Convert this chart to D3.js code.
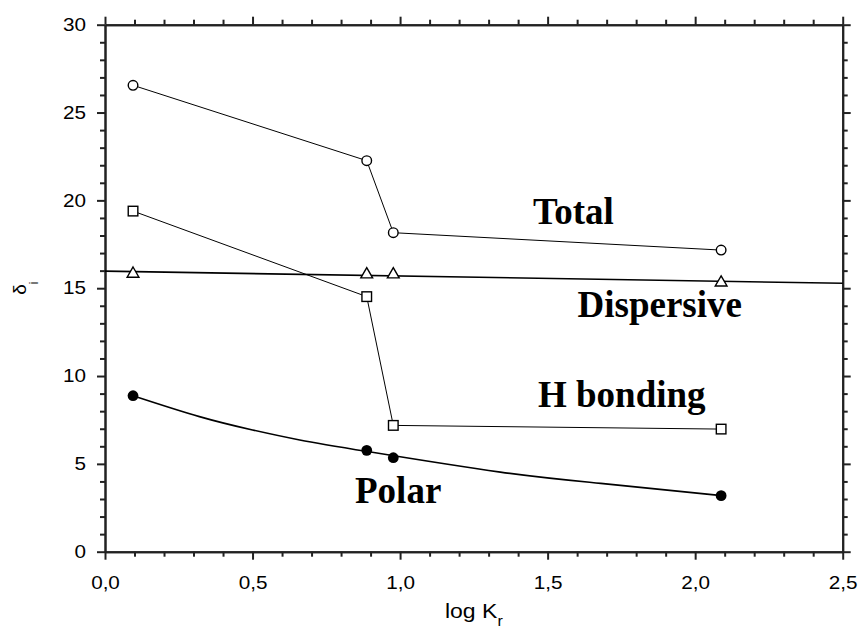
<!DOCTYPE html>
<html>
<head>
<meta charset="utf-8">
<script src="https://cdn.jsdelivr.net/npm/d3@7"></script>
<style>
  body { margin: 0; background: #fff; }
  svg { display: block; }
</style>
</head>
<body>
<script>
// values
var logK = [0.095, 0.887, 0.977, 2.088];
var total = [26.55, 22.26, 18.16, 17.17];
var hBonding = [19.39, 14.52, 7.19, 6.98];
var dispersive = [15.82, 15.78, 15.78, 15.32];
var polar = [8.88, 5.77, 5.35, 3.19];

// fitted lines as drawn in the figure
var dispFitX = [0, 2.5];
var dispFitY = [15.97, 15.28];
var polarFitX = [0.095, 0.32, 0.50, 0.66, 0.89, 1.34, 1.68, 2.09];
var polarFitY = [8.88, 7.69, 6.93, 6.36, 5.70, 4.53, 3.89, 3.19];

var xMajor = [0, 0.5, 1, 1.5, 2, 2.5];
var yMajor = [0, 5, 10, 15, 20, 25, 30];

var labels = ["Total", "Dispersive", "H bonding", "Polar"];
var labelPos = [[533, 224], [577.5, 316.7], [538, 406.7], [355, 503.3]];

var w = 863, h = 635;
var svg = d3.select("body").append("svg")
    .attr("width", w)
    .attr("height", h);

var x = d3.scaleLinear().domain([0, 2.5]).range([105, 842.7]);
var y = d3.scaleLinear().domain([0, 30]).range([551.7, 24.7]);

var xMinor = d3.range(0, 26).map(function(i){ return i / 10; })
    .filter(function(v){ return Math.round(v * 10) % 5 != 0; });
var yMinor = d3.range(0, 31).filter(function(v){ return v % 5 != 0; });

var fmtX = function(d){ return d3.format(".1f")(d).replace(".", ","); };

function styleAxis(g){
  g.select(".domain").attr("stroke", "#222").attr("stroke-width", 2);
  g.selectAll(".tick line").attr("stroke", "#222").attr("stroke-width", 2);
  g.selectAll("text")
    .attr("fill", "#000")
    .attr("transform", "scale(1.15,1)")
    .style("font-family", "'Liberation Sans', Arial, sans-serif")
    .style("font-size", "18px");
}

// bottom
svg.append("g").attr("transform", "translate(0," + y(0) + ")")
  .call(d3.axisBottom(x).tickValues(xMinor).tickSize(5).tickSizeOuter(0).tickFormat(""))
  .call(styleAxis);
svg.append("g").attr("transform", "translate(0," + y(0) + ")")
  .call(d3.axisBottom(x).tickValues(xMajor).tickSize(8).tickSizeOuter(0).tickPadding(17).tickFormat(fmtX))
  .call(styleAxis);
// top
svg.append("g").attr("transform", "translate(0," + y(30) + ")")
  .call(d3.axisTop(x).tickValues(xMinor).tickSize(5).tickSizeOuter(0).tickFormat(""))
  .call(styleAxis);
svg.append("g").attr("transform", "translate(0," + y(30) + ")")
  .call(d3.axisTop(x).tickValues(xMajor).tickSize(8).tickSizeOuter(0).tickFormat(""))
  .call(styleAxis);
// left
svg.append("g").attr("transform", "translate(" + x(0) + ",0)")
  .call(d3.axisLeft(y).tickValues(yMinor).tickSize(5).tickSizeOuter(0).tickFormat(""))
  .call(styleAxis);
svg.append("g").attr("transform", "translate(" + x(0) + ",0)")
  .call(d3.axisLeft(y).tickValues(yMajor).tickSize(8).tickSizeOuter(0).tickPadding(8.5).tickFormat(d3.format("d")))
  .call(styleAxis);
// right
svg.append("g").attr("transform", "translate(" + x(2.5) + ",0)")
  .call(d3.axisRight(y).tickValues(yMinor).tickSize(5).tickSizeOuter(0).tickFormat(""))
  .call(styleAxis);
svg.append("g").attr("transform", "translate(" + x(2.5) + ",0)")
  .call(d3.axisRight(y).tickValues(yMajor).tickSize(8).tickSizeOuter(0).tickFormat(""))
  .call(styleAxis);

// axis titles
var xt = svg.append("text")
    .attr("transform", "translate(" + ((x(0) + x(2.5)) / 2) + ",618) scale(1.15,1)")
    .attr("text-anchor", "middle")
    .style("font-family", "'Liberation Sans', Arial, sans-serif")
    .style("font-size", "20px");
xt.append("tspan").text("log K");
xt.append("tspan").attr("dy", 8).style("font-size", "14px").text("r");

var yt = svg.append("text")
    .attr("transform", "translate(26," + ((y(0) + y(30)) / 2) + ") rotate(-90)")
    .attr("text-anchor", "middle")
    .style("font-family", "'Liberation Sans', Arial, sans-serif")
    .style("font-size", "19px");
yt.append("tspan").text("δ");
yt.append("tspan").attr("dy", 12).style("font-size", "12px").text("i");

// lines
var line = d3.line()
    .x(function(d){ return x(d[0]); })
    .y(function(d){ return y(d[1]); });

svg.append("path")
  .datum(d3.zip(dispFitX, dispFitY))
  .attr("d", line)
  .attr("fill", "none").attr("stroke", "#000").attr("stroke-width", 1.6);

svg.append("path")
  .datum(d3.zip(polarFitX, polarFitY))
  .attr("d", line.curve(d3.curveNatural))
  .attr("fill", "none").attr("stroke", "#000").attr("stroke-width", 1.6);
line.curve(d3.curveLinear);

[total, hBonding].forEach(function(s){
  svg.append("path")
    .datum(d3.zip(logK, s))
    .attr("d", line)
    .attr("fill", "none").attr("stroke", "#000").attr("stroke-width", 1);
});

// markers
svg.selectAll("circle.total")
  .data(d3.zip(logK, total))
  .enter().append("circle")
  .attr("class", "total")
  .attr("cx", function(d){ return x(d[0]); })
  .attr("cy", function(d){ return y(d[1]); })
  .attr("r", 4.8)
  .attr("fill", "#fff").attr("stroke", "#000").attr("stroke-width", 1.4);

svg.selectAll("rect.hb")
  .data(d3.zip(logK, hBonding))
  .enter().append("rect")
  .attr("class", "hb")
  .attr("x", function(d){ return x(d[0]) - 4.8; })
  .attr("y", function(d){ return y(d[1]) - 4.8; })
  .attr("width", 9.6).attr("height", 9.6)
  .attr("fill", "#fff").attr("stroke", "#000").attr("stroke-width", 1.4);

var tri = d3.symbol().type(d3.symbolTriangle).size(60);
svg.selectAll("path.disp")
  .data(d3.zip(logK, dispersive))
  .enter().append("path")
  .attr("class", "disp")
  .attr("d", tri)
  .attr("transform", function(d){ return "translate(" + x(d[0]) + "," + y(d[1]) + ")"; })
  .attr("fill", "#fff").attr("stroke", "#000").attr("stroke-width", 1.4);

svg.selectAll("circle.polar")
  .data(d3.zip(logK, polar))
  .enter().append("circle")
  .attr("class", "polar")
  .attr("cx", function(d){ return x(d[0]); })
  .attr("cy", function(d){ return y(d[1]); })
  .attr("r", 5.4)
  .attr("fill", "#000");

// series labels
svg.selectAll("text.lab")
  .data(labels)
  .enter().append("text")
  .attr("class", "lab")
  .attr("x", function(d, i){ return labelPos[i][0]; })
  .attr("y", function(d, i){ return labelPos[i][1]; })
  .style("font-family", "'Liberation Serif', 'Times New Roman', serif")
  .style("font-weight", "bold")
  .style("font-size", "37px")
  .text(function(d){ return d; });
</script>
</body>
</html>
